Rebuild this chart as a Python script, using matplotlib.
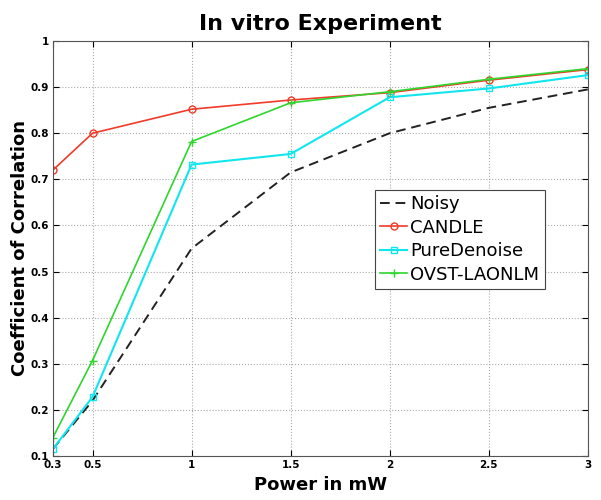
import matplotlib
matplotlib.use("Agg")
import matplotlib.pyplot as plt

power = [0.3, 0.5, 1, 1.5, 2, 2.5, 3]
noisy = [0.115, 0.22, 0.55, 0.715, 0.80, 0.855, 0.895]
candle = [0.72, 0.80, 0.852, 0.872, 0.888, 0.915, 0.938]
pure_denoise = [0.115, 0.228, 0.732, 0.755, 0.878, 0.897, 0.926]
ovst_laonlm = [0.14, 0.307, 0.782, 0.866, 0.89, 0.917, 0.94]

xticks = [0.3, 0.5, 1, 1.5, 2, 2.5, 3]
xticklabels = ["0.3", "0.5", "1", "1.5", "2", "2.5", "3"]
yticks = [0.1, 0.2, 0.3, 0.4, 0.5, 0.6, 0.7, 0.8, 0.9, 1]
yticklabels = ["0.1", "0.2", "0.3", "0.4", "0.5", "0.6", "0.7", "0.8", "0.9", "1"]

fig = plt.figure(figsize=(6.01, 5), dpi=100)
ax = fig.add_axes([0.088, 0.088, 0.89, 0.830])

ax.plot(power, noisy, color="#222222", linestyle=(0, (5, 3)), linewidth=1.4,
        label="Noisy")
ax.plot(power, candle, color="#f03a2a", marker="o", markersize=5,
        markerfacecolor="none", linewidth=1.2, label="CANDLE")
ax.plot(power, pure_denoise, color="#11e6ee", marker="s", markersize=5,
        markerfacecolor="none", linewidth=1.5, label="PureDenoise")
ax.plot(power, ovst_laonlm, color="#2ed62e", marker="+", markersize=6,
        linewidth=1.2, label="OVST-LAONLM")

ax.set_xlim(0.3, 3)
ax.set_ylim(0.1, 1)
ax.set_xticks(xticks)
ax.set_xticklabels(xticklabels, fontsize=7.5, fontweight="bold")
ax.set_yticks(yticks)
ax.set_yticklabels(yticklabels, fontsize=7.5, fontweight="bold")
ax.tick_params(direction="in", top=True, right=True, length=4, pad=3)
ax.grid(True, linestyle=":", color="#aaaaaa", linewidth=0.8)

for s in ax.spines.values():
    s.set_color("#555555")

ax.set_title("In vitro Experiment", fontsize=16, fontweight="bold", pad=8)
ax.set_xlabel("Power in mW", fontsize=13, fontweight="bold", labelpad=4)
ax.set_ylabel("Coefficient of Correlation", fontsize=13, fontweight="bold",
              labelpad=1)

leg = ax.legend(loc="upper left", bbox_to_anchor=(0.602, 0.641), fontsize=13,
                fancybox=False, framealpha=1, edgecolor="#444444",
                borderpad=0.3, labelspacing=0.3, handlelength=1.5,
                handletextpad=0.15, borderaxespad=0)
leg.get_frame().set_linewidth(0.8)

fig.savefig("out.png", dpi=100)
